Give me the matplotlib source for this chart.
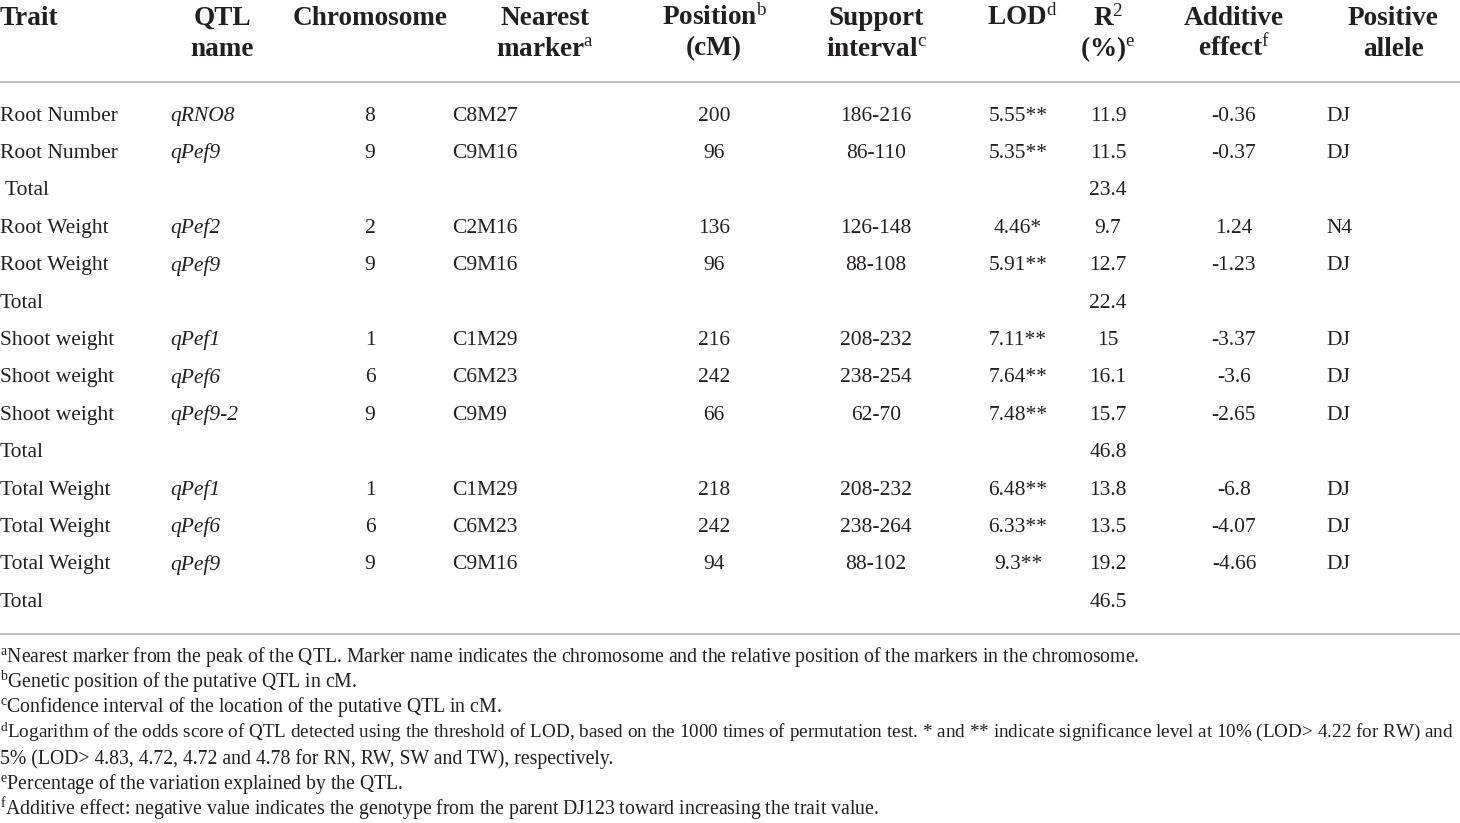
import matplotlib
matplotlib.use("Agg")
import matplotlib.pyplot as plt

plt.rcParams['font.family'] = ['Liberation Serif', 'DejaVu Serif']
plt.rcParams['mathtext.fontset'] = 'custom'
plt.rcParams['mathtext.rm'] = 'Liberation Serif'
plt.rcParams['mathtext.it'] = 'Liberation Serif:italic'
plt.rcParams['mathtext.bf'] = 'Liberation Serif:bold'

# ---- data ----
header_line1 = ["Trait", "QTL", "Chromosome", "Nearest", "Position$^{\\mathrm{b}}$",
                "Support", "LOD$^{\\mathrm{d}}$", "R$^{\\mathrm{2}}$", "Additive", "Positive"]
header_line2 = ["", "name", "", "marker$^{\\mathrm{a}}$", "(cM)",
                "interval$^{\\mathrm{c}}$", "", "(%)$^{\\mathrm{e}}$", "effect$^{\\mathrm{f}}$", "allele"]

traits = ["Root Number", "Root Number", " Total", "Root Weight", "Root Weight", "Total",
          "Shoot weight", "Shoot weight", "Shoot weight", "Total",
          "Total Weight", "Total Weight", "Total Weight", "Total"]
qtl_names = ["qRNO8", "qPef9", "", "qPef2", "qPef9", "", "qPef1", "qPef6", "qPef9-2", "",
             "qPef1", "qPef6", "qPef9", ""]
chromosomes = ["8", "9", "", "2", "9", "", "1", "6", "9", "", "1", "6", "9", ""]
markers = ["C8M27", "C9M16", "", "C2M16", "C9M16", "", "C1M29", "C6M23", "C9M9", "",
           "C1M29", "C6M23", "C9M16", ""]
positions = ["200", "96", "", "136", "96", "", "216", "242", "66", "", "218", "242", "94", ""]
supports = ["186-216", "86-110", "", "126-148", "88-108", "", "208-232", "238-254", "62-70", "",
            "208-232", "238-264", "88-102", ""]
lods = ["5.55**", "5.35**", "", "4.46*", "5.91**", "", "7.11**", "7.64**", "7.48**", "",
        "6.48**", "6.33**", "9.3**", ""]
r2 = ["11.9", "11.5", "23.4", "9.7", "12.7", "22.4", "15", "16.1", "15.7", "46.8",
      "13.8", "13.5", "19.2", "46.5"]
additive = ["-0.36", "-0.37", "", "1.24", "-1.23", "", "-3.37", "-3.6", "-2.65", "",
            "-6.8", "-4.07", "-4.66", ""]
alleles = ["DJ", "DJ", "", "N4", "DJ", "", "DJ", "DJ", "DJ", "", "DJ", "DJ", "DJ", ""]

footnotes = [
    "$^{\\mathrm{a}}$Nearest marker from the peak of the QTL. Marker name indicates the chromosome and the relative position of the markers in the chromosome.",
    "$^{\\mathrm{b}}$Genetic position of the putative QTL in cM.",
    "$^{\\mathrm{c}}$Confidence interval of the location of the putative QTL in cM.",
    "$^{\\mathrm{d}}$Logarithm of the odds score of QTL detected using the threshold of LOD, based on the 1000 times of permutation test. * and ** indicate significance level at 10% (LOD> 4.22 for RW) and",
    "5% (LOD> 4.83, 4.72, 4.72 and 4.78 for RN, RW, SW and TW), respectively.",
    "$^{\\mathrm{e}}$Percentage of the variation explained by the QTL.",
    "$^{\\mathrm{f}}$Additive effect: negative value indicates the genotype from the parent DJ123 toward increasing the trait value.",
]

# ---- layout ----
W, H = 1460, 823
fig = plt.figure(figsize=(W / 100, H / 100), dpi=100)
ax = fig.add_axes([0, 0, 1, 1])
ax.set_xlim(0, W)
ax.set_ylim(H, 0)
ax.axis('off')

ink = '#231f20'

header_x = [0, 222, 370, 545, 714, 876, 1022, 1108, 1234, 1393]
header_ha = ['left'] + ['center'] * 9
hfs = 19.6
for x, ha, t1, t2 in zip(header_x, header_ha, header_line1, header_line2):
    if t1:
        ax.text(x, 18, t1, ha=ha, va='center', fontsize=hfs, fontweight='bold', color=ink)
    if t2:
        ax.text(x, 49, t2, ha=ha, va='center', fontsize=hfs, fontweight='bold', color=ink)

rule_color = '#b5b5b5'
ax.plot([0, W], [82, 82], color=rule_color, lw=1.2)
ax.plot([0, W], [634, 634], color=rule_color, lw=1.2)

bfs = 15.5
row_y0, row_step = 116, 37.4
cols = [
    (traits, 0, 'left', 'normal'),
    (qtl_names, 170, 'left', 'italic'),
    (chromosomes, 370, 'center', 'normal'),
    (markers, 452, 'left', 'normal'),
    (positions, 714, 'center', 'normal'),
    (supports, 876, 'center', 'normal'),
    (lods, 1018, 'center', 'normal'),
    (r2, 1108, 'center', 'normal'),
    (additive, 1234, 'center', 'normal'),
    (alleles, 1326, 'left', 'normal'),
]
for vals, x, ha, style in cols:
    for i, v in enumerate(vals):
        if v:
            ax.text(x, row_y0 + i * row_step, v, ha=ha, va='center', fontsize=bfs,
                    fontstyle=style, color=ink)

foot_y = [657, 682, 707, 732, 759, 784, 809]
foot_fs = [14.2, 14.2, 14.2, 13.8, 14.2, 14.2, 14.2]
for y, fs, t in zip(foot_y, foot_fs, footnotes):
    ax.text(0, y, t, ha='left', va='center', fontsize=fs, color=ink)

fig.savefig("out.png", dpi=100, facecolor='white')
